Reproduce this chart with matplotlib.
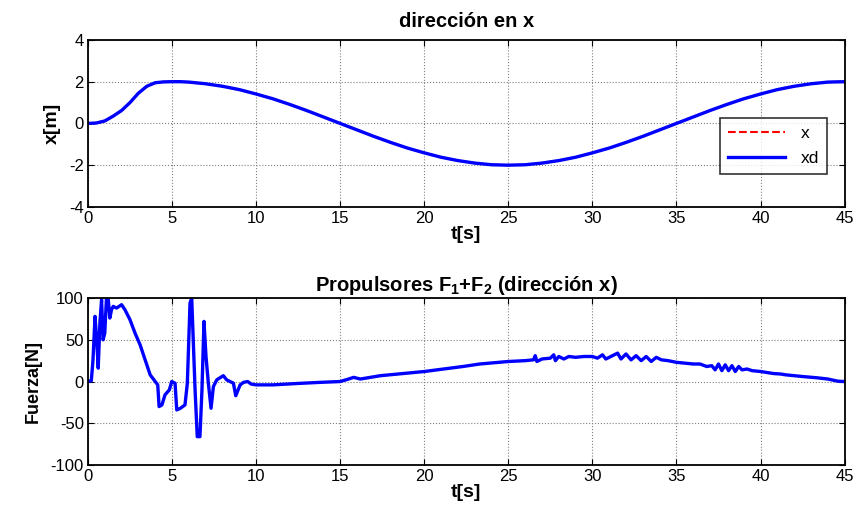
import numpy as np
import matplotlib
matplotlib.use("Agg")
import matplotlib.pyplot as plt

plt.rcParams['font.family'] = ['Liberation Sans', 'DejaVu Sans']
plt.rcParams['mathtext.fontset'] = 'custom'
plt.rcParams['mathtext.rm'] = 'Liberation Sans'
plt.rcParams['mathtext.bf'] = 'Liberation Sans:bold'
plt.rcParams['axes.unicode_minus'] = False

# --- top: position in x, desired vs actual
t_pos = [0, 0.5, 1, 1.5, 2, 2.5, 3, 3.5, 4, 4.5, 5, 5.5, 6, 7, 8, 9, 10, 11, 12, 13, 14,
         15, 16, 17, 18, 19, 20, 21, 22, 23, 24, 25, 26, 27, 28, 29, 30, 31, 32, 33,
         34, 35, 36, 37, 38, 39, 40, 41, 42, 43, 44, 45]
xd = [0, 0.02, 0.12, 0.35, 0.62, 1.0, 1.45, 1.78, 1.95, 1.99, 2.0, 2.0, 1.98, 1.9, 1.78,
      1.62, 1.41, 1.18, 0.91, 0.62, 0.31, 0, -0.31, -0.62, -0.91, -1.18, -1.41, -1.62,
      -1.78, -1.9, -1.98, -2.0, -1.98, -1.9, -1.78, -1.62, -1.41, -1.18, -0.91, -0.62,
      -0.31, 0, 0.31, 0.62, 0.91, 1.18, 1.41, 1.62, 1.78, 1.9, 1.98, 2.0]
x = [0, 0.01, 0.11, 0.34, 0.61, 0.99, 1.44, 1.77, 1.94, 1.99, 2.0, 2.0, 1.98, 1.9, 1.78,
     1.62, 1.41, 1.18, 0.91, 0.62, 0.31, 0, -0.31, -0.62, -0.91, -1.18, -1.41, -1.62,
     -1.78, -1.9, -1.98, -2.0, -1.98, -1.9, -1.78, -1.62, -1.41, -1.18, -0.91, -0.62,
     -0.31, 0, 0.31, 0.62, 0.91, 1.18, 1.41, 1.62, 1.78, 1.9, 1.98, 2.0]

# --- bottom: thruster force
t_f = [0, 0.2, 0.3, 0.42, 0.52, 0.61, 0.71, 0.81, 0.9, 1.0, 1.1, 1.2, 1.3, 1.4, 1.5, 1.7,
       2.0, 2.2, 2.5, 2.8, 3.1, 3.4, 3.7, 4.0, 4.15, 4.23, 4.4, 4.58, 4.84, 4.98, 5.18,
       5.28, 5.5, 5.77, 5.91, 6.07, 6.17, 6.37, 6.5, 6.66, 6.78, 6.9, 7.02, 7.16, 7.32,
       7.46, 7.66, 8.05, 8.25, 8.65, 8.79, 9.05, 9.25, 9.5, 9.7, 10, 11, 12.4, 13.8, 15,
       15.5, 15.8, 16.2, 17.4, 20, 22.3, 23.3, 25, 26.0, 26.5, 26.6, 26.7, 27.0, 27.5,
       27.7, 27.8, 28.0, 28.3, 28.6, 29, 29.5, 30, 30.3, 30.6, 30.8, 31.2, 31.5, 31.7,
       32.0, 32.3, 32.6, 32.9, 33.2, 33.5, 33.8, 34.1, 34.5, 35, 35.5, 36, 36.4, 36.8,
       37.1, 37.3, 37.5, 37.7, 37.9, 38.1, 38.3, 38.5, 38.7, 38.9, 39.2, 39.5, 40, 40.8,
       41.2, 41.5, 42, 42.5, 43.4, 44, 44.6, 45]
fuerza = [0, 1, 26, 78, 50, 16, 70, 98, 50, 58, 100, 100, 76, 86, 90, 88,
          92, 86, 74, 58, 44, 26, 8, 0, -4, -30, -28, -16, -10, 0, -2,
          -34, -32, -28, -2, 94, 100, -10, -66, -66, -10, 72, 30, -2, -32,
          -6, 2, 7, 2, -2, -17, -4, -1, 0, -3, -4, -4, -2.4, -1, 0,
          3, 5, 3, 7, 12, 18, 21, 24, 25, 26, 31, 24, 27, 28,
          32, 25, 30, 27, 30, 29, 30, 30, 28, 32, 27, 31, 34, 27,
          33, 26, 31, 25, 30, 24, 29, 26, 25, 23, 22, 21, 21, 18,
          19, 14, 21, 13, 20, 13, 19, 12, 18, 14, 15, 13, 12, 9.5,
          9, 8, 7, 6, 4.4, 3, 0.4, 0]

fig = plt.figure(figsize=(8.54, 5.16), dpi=100)
ax1 = fig.add_axes([0.103, 0.599, 0.886, 0.3236])
ax2 = fig.add_axes([0.103, 0.0988, 0.886, 0.3236])

ax1.plot(t_pos, x, 'r--', lw=1.5, label='x')
ax1.plot(t_pos, xd, 'b-', lw=2.4, label='xd')
ax1.set_ylim(-4, 4)
ax1.set_yticks([-4, -2, 0, 2, 4])
ax1.set_title('dirección en x', fontsize=14.5, fontweight='bold', pad=9)
ax1.set_ylabel('x[m]', fontsize=14, fontweight='bold', labelpad=6)
leg = ax1.legend(loc='center right', bbox_to_anchor=(0.988, 0.365), fancybox=False,
                 edgecolor='black', fontsize=12.5, handlelength=3.3, borderpad=0.45,
                 labelspacing=0.6, handletextpad=0.9)
leg.get_frame().set_linewidth(1.2)

ax2.plot(t_f, fuerza, 'b-', lw=2.4)
ax2.set_ylim(-100, 100)
ax2.set_yticks([-100, -50, 0, 50, 100])
ax2.set_title('Propulsores F$_\\mathbf{1}$+F$_\\mathbf{2}$ (dirección x)',
              fontsize=14.5, fontweight='bold', pad=5)
ax2.set_ylabel('Fuerza[N]', fontsize=13, fontweight='bold', labelpad=6)

for ax in (ax1, ax2):
    ax.set_xlim(0, 45)
    ax.set_xticks(range(0, 46, 5))
    ax.set_xlabel('t[s]', fontsize=14, fontweight='bold', labelpad=0)
    ax.grid(True, color='gray', linestyle=':', linewidth=0.8)
    ax.tick_params(direction='in', top=True, right=True, length=4, labelsize=12, pad=3)
    for s in ax.spines.values():
        s.set_linewidth(1.3)

fig.savefig('out.png', dpi=100)
